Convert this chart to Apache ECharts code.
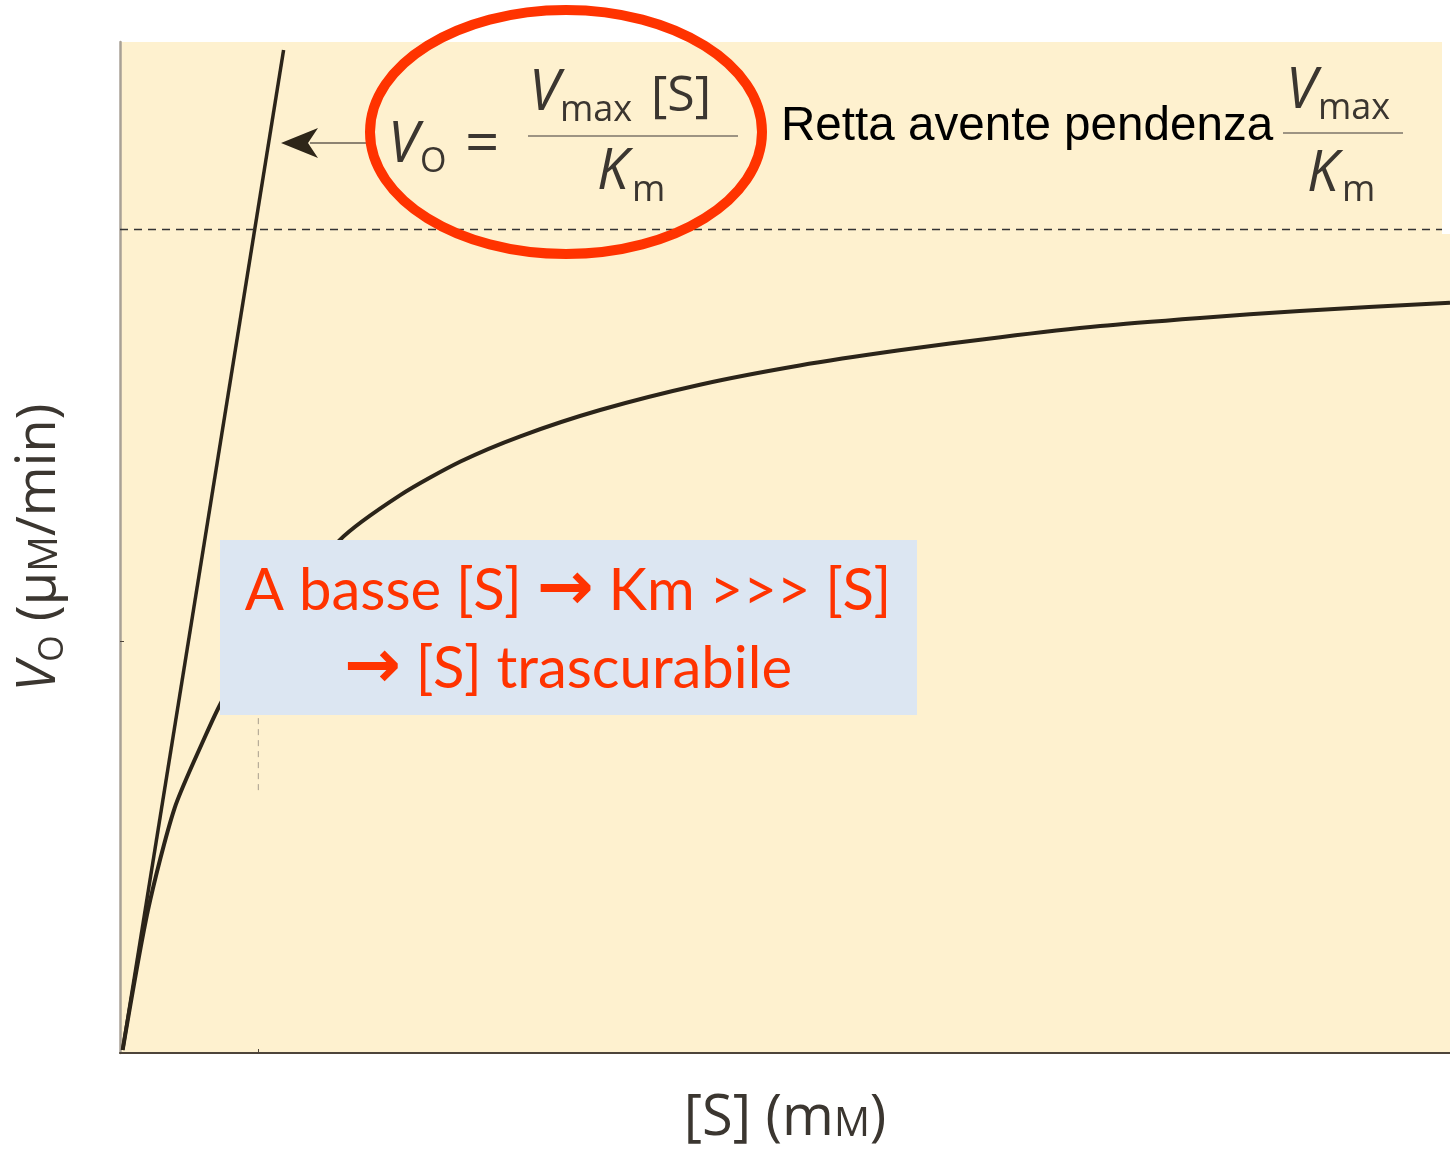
<!DOCTYPE html>
<html><head><meta charset="utf-8">
<script src="https://cdn.jsdelivr.net/npm/echarts@6/dist/echarts.min.js"></script>
<style>html,body{margin:0;padding:0;background:#fff}#chart{width:1450px;height:1152px}</style>
</head><body><div id="chart"></div>
<script>
// Michaelis–Menten saturation curve: [S] (mM) against initial rate V0
const S_VALUES  = [0.02, 0.21, 0.41, 0.64, 0.77, 1.04, 1.65, 2.11, 2.56, 3.01, 3.61, 4.36, 5.11, 5.86, 6.62, 7.37, 8.12, 8.87, 10.0];
const V0_VALUES = [0.3, 14.1, 24.2, 31.3, 34.9, 40.75, 50.7, 55.2, 58.5, 61.0, 63.6, 66.1, 68.0, 69.5, 70.8, 71.9, 72.7, 73.4, 74.2];
// straight line through the origin with slope Vmax/Km
const LINE_S = [0.02, 1.23];
const LINE_V = [0.3, 99.2];
const VMAX = 81.5;
const KM = 1.04;
const KM_GUIDE_V = [26.0, 40.75];
const S_RANGE = [0, 10];
const V_RANGE = [0, 100];

const INK = '#3b3630';
const RED = '#ff3300';
const SANS = '"Open Sans", "Noto Sans", sans-serif';

const curveData = S_VALUES.map((s, i) => [s, V0_VALUES[i]]);
const lineData = LINE_S.map((s, i) => [s, LINE_V[i]]);
const guideData = KM_GUIDE_V.map(v => [KM, v]);

function txt(text, x, y, size, opts) {
  return {
    type: 'text', x: x, y: y, z: 50,
    style: Object.assign({
      text: text, fontSize: size, fontFamily: SANS, fill: INK,
      align: 'left', verticalAlign: 'middle'
    }, opts || {})
  };
}

const chart = echarts.init(document.getElementById('chart'), null, {renderer: 'canvas'});
chart.setOption({
  animation: false,
  backgroundColor: '#ffffff',
  grid: {left: 120, top: 42, right: 0, bottom: 99, show: true, backgroundColor: '#fef1cf', borderWidth: 0},
  xAxis: {
    type: 'value', min: S_RANGE[0], max: S_RANGE[1],
    name: '[S] ({u|m}{sc|M})',
    nameLocation: 'middle', nameGap: 38,
    nameTextStyle: {
      fontSize: 56, fontFamily: SANS, color: INK,
      rich: {u: {fontSize: 56, fontFamily: SANS, color: INK}, sc: {fontSize: 40, fontFamily: SANS, color: INK, padding: [12, 0, 0, 0]}}
    },
    axisLine: {show: true, lineStyle: {color: '#4d443a', width: 2}},
    axisTick: {show: true, inside: true, length: 4, customValues: [KM], lineStyle: {color: '#4d443a', width: 1}},
    axisLabel: {show: false},
    splitLine: {show: false}
  },
  yAxis: {
    type: 'value', min: V_RANGE[0], max: V_RANGE[1],
    name: '{v|V}{o|O}{n| (μ}{sc|M}{n|/min)}',
    nameLocation: 'middle', nameGap: 50, nameRotate: 90,
    nameTextStyle: {
      fontSize: 54, fontFamily: SANS, color: INK,
      rich: {
        v: {fontSize: 54, fontStyle: 'italic', fontFamily: SANS, color: INK},
        o: {fontSize: 34, fontFamily: SANS, color: INK, padding: [26, 0, 0, 0]},
        n: {fontSize: 54, fontFamily: SANS, color: INK},
        sc: {fontSize: 40, fontFamily: SANS, color: INK, padding: [12, 0, 0, 0]}
      }
    },
    axisLine: {show: true, lineStyle: {color: '#a8a196', width: 2.5}},
    axisTick: {show: true, inside: true, length: 4, customValues: [VMAX / 2], lineStyle: {color: '#4d443a', width: 1}},
    axisLabel: {show: false},
    splitLine: {show: false}
  },
  series: [
    {
      name: 'V0', type: 'line', data: curveData, showSymbol: false,
      smooth: 0.25,
      lineStyle: {color: '#2b2419', width: 4},
      markLine: {
        silent: true, symbol: 'none', label: {show: false},
        lineStyle: {color: '#333', width: 1.3, type: [8, 6]},
        data: [{yAxis: VMAX}]
      },
      z: 3
    },
    {
      name: 'slope', type: 'line', data: lineData, showSymbol: false,
      lineStyle: {color: '#2b2419', width: 3.5}, z: 3
    },
    {
      name: 'Km', type: 'line', data: guideData, showSymbol: false,
      lineStyle: {color: '#a79e8e', width: 1, type: [6, 5]}, z: 2
    }
  ],
  graphic: [
    // white notch at the top right of the plot panel
    {type: 'rect', z: 40, shape: {x: 1442, y: 38, width: 10, height: 196}, style: {fill: '#ffffff'}},
    // arrow pointing at the initial slope line
    {type: 'line', z: 50, shape: {x1: 367, y1: 143, x2: 310, y2: 143}, style: {stroke: '#8d8372', lineWidth: 2}},
    {type: 'polygon', z: 51, shape: {points: [[281, 143], [318, 128], [308, 143], [318, 158]]}, style: {fill: '#2e2619'}},
    // V0 = Vmax [S] / Km
    txt('V', 388, 146, 56, {fontStyle: 'italic'}),
    txt('O', 420, 162, 34),
    txt('=', 465, 146, 60),
    txt('V', 529, 94, 56, {fontStyle: 'italic'}),
    txt('max', 560, 111, 36),
    txt('[S]', 651, 97, 50),
    {type: 'line', z: 50, shape: {x1: 528, y1: 136, x2: 738, y2: 136}, style: {stroke: '#9d9483', lineWidth: 2}},
    txt('K', 597, 173, 56, {fontStyle: 'italic'}),
    txt('m', 632, 191, 36),
    {type: 'ellipse', z: 52, shape: {cx: 566, cy: 132, rx: 196, ry: 122}, style: {fill: 'none', stroke: RED, lineWidth: 10}},
    // slope caption
    txt('Retta avente pendenza', 781, 127, 47.6, {fontFamily: '"Liberation Sans", Arial, sans-serif', fill: '#000000'}),
    txt('V', 1286, 92, 56, {fontStyle: 'italic'}),
    txt('max', 1318, 109, 36),
    {type: 'line', z: 50, shape: {x1: 1283, y1: 133, x2: 1403, y2: 133}, style: {stroke: '#9d9483', lineWidth: 2}},
    txt('K', 1307, 175, 56, {fontStyle: 'italic'}),
    txt('m', 1342, 191, 36),
    // low-[S] note
    {type: 'rect', z: 60, shape: {x: 220, y: 540, width: 697, height: 175}, style: {fill: '#dce6f2'}},
    {type: 'text', z: 61, x: 568, y: 630, style: {
      text: '{t|A basse [S] }{a|→}{t| Km >>> [S]}\n{a|→}{t| [S] trascurabile}',
      align: 'center', verticalAlign: 'middle',
      rich: {
        t: {fontSize: 58, fontFamily: 'Lato, "Noto Sans", sans-serif', fill: RED, lineHeight: 78},
        a: {fontSize: 68, fontFamily: '"DejaVu Sans", sans-serif', fontWeight: 'bold', fill: RED, lineHeight: 78}
      }
    }}
  ]
});
</script>
</body></html>
